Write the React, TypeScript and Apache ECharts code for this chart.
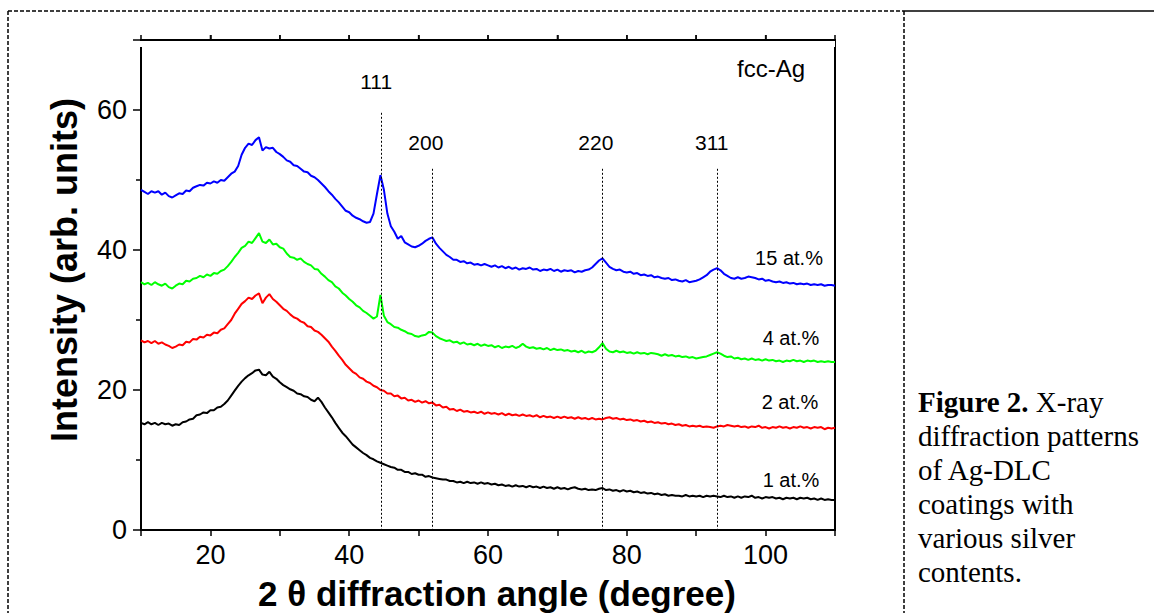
import React, { useEffect, useRef } from "react";
import * as echarts from "echarts";

// 2θ sampling of the digitised patterns (degrees)
const twoTheta: number[] = [
  10, 10.5, 11, 11.5, 12, 12.5, 13, 13.5, 14, 14.5,
  15, 15.5, 16, 16.5, 17, 17.5, 18, 18.5, 19, 19.5,
  20, 20.5, 21, 21.5, 22, 22.5, 23, 23.5, 24, 24.5,
  25, 25.5, 26, 26.5, 27, 27.5, 28, 28.5, 29, 29.5,
  30, 30.5, 31, 31.5, 32, 32.5, 33, 33.5, 34, 34.5,
  35, 35.5, 36, 36.5, 37, 37.5, 38, 38.5, 39, 39.5,
  40, 40.5, 41, 41.5, 42, 42.5, 43, 43.5, 44, 44.5,
  45, 45.5, 46, 46.5, 47, 47.5, 48, 48.5, 49, 49.5,
  50, 50.5, 51, 51.5, 52, 52.5, 53, 53.5, 54, 54.5,
  55, 55.5, 56, 56.5, 57, 57.5, 58, 58.5, 59, 59.5,
  60, 60.5, 61, 61.5, 62, 62.5, 63, 63.5, 64, 64.5,
  65, 65.5, 66, 66.5, 67, 67.5, 68, 68.5, 69, 69.5,
  70, 70.5, 71, 71.5, 72, 72.5, 73, 73.5, 74, 74.5,
  75, 75.5, 76, 76.5, 77, 77.5, 78, 78.5, 79, 79.5,
  80, 80.5, 81, 81.5, 82, 82.5, 83, 83.5, 84, 84.5,
  85, 85.5, 86, 86.5, 87, 87.5, 88, 88.5, 89, 89.5,
  90, 90.5, 91, 91.5, 92, 92.5, 93, 93.5, 94, 94.5,
  95, 95.5, 96, 96.5, 97, 97.5, 98, 98.5, 99, 99.5,
  100, 100.5, 101, 101.5, 102, 102.5, 103, 103.5, 104, 104.5,
  105, 105.5, 106, 106.5, 107, 107.5, 108, 108.5, 109, 109.5,
  110,
];

const blue15: number[] = [
  48.6, 48.3, 48.0, 48.4, 48.2, 48.4, 47.9, 48.2, 47.7, 47.5,
  47.8, 48.1, 48.0, 48.5, 48.4, 48.9, 49.1, 49.3, 49.2, 49.6,
  49.5, 49.8, 49.6, 50.0, 49.9, 50.4, 50.9, 51.2, 52.0, 53.6,
  54.6, 55.2, 55.0, 55.7, 56.1, 54.2, 54.7, 54.5, 54.6, 54.0,
  53.7, 53.3, 52.8, 52.6, 52.1, 52.0, 51.6, 51.2, 51.1, 50.6,
  50.4, 50.0, 49.5, 49.0, 48.4, 47.9, 47.3, 46.8, 46.2, 45.6,
  45.4, 44.9, 44.6, 44.4, 44.1, 43.9, 44.0, 45.2, 48.0, 50.7,
  48.6, 45.2, 43.4, 42.6, 41.6, 42.0, 41.1, 40.8, 40.5, 40.4,
  40.6, 40.9, 41.3, 41.6, 41.8, 40.9, 40.3, 39.8, 39.3, 39.0,
  38.6, 38.6, 38.3, 38.4, 38.1, 38.2, 37.9, 38.0, 37.8, 38.0,
  37.8, 37.6, 37.8, 37.5, 37.7, 37.4, 37.6, 37.3, 37.5, 37.2,
  37.4, 37.3, 37.5, 37.2, 37.3, 37.0, 37.2, 37.1, 37.3, 37.0,
  37.2, 36.9, 37.1, 37.0, 37.1, 36.8, 37.0, 36.9, 37.1, 37.2,
  37.5, 38.0, 38.5, 38.8, 38.2, 37.6, 37.3, 37.1, 37.2, 36.9,
  36.8, 36.9, 36.6, 36.7, 36.4, 36.5, 36.3, 36.4, 36.1, 36.2,
  36.0, 35.9, 36.0, 35.7, 35.8, 35.6, 35.5, 35.7, 35.4, 35.5,
  35.6, 35.8, 36.1, 36.4, 36.9, 37.2, 37.4, 37.1, 36.6, 36.3,
  36.0, 35.9, 36.1, 35.9, 36.0, 36.2, 36.1, 36.0, 35.8, 35.9,
  35.6, 35.7, 35.5, 35.4, 35.5, 35.3, 35.4, 35.2, 35.3, 35.1,
  35.2, 35.1, 35.2, 35.0, 35.1, 35.0, 35.1, 34.9, 35.0, 35.0,
  34.9,
];

const green4: number[] = [
  35.4, 35.1, 35.3, 35.0, 35.4, 35.1, 34.9, 35.2, 34.7, 34.5,
  34.9, 35.2, 35.1, 35.6, 35.5, 35.9, 36.0, 36.3, 36.1, 36.5,
  36.3, 36.7, 36.6, 37.0, 37.2, 37.7, 38.3, 39.0, 39.6, 40.3,
  40.6, 41.2, 41.0, 41.7, 42.4, 41.2, 41.0, 41.5, 40.8, 40.9,
  40.4, 40.2, 39.5, 39.0, 38.9, 38.6, 38.8, 38.3, 38.0, 37.8,
  37.3, 37.2, 36.6, 36.2, 35.7, 35.4, 34.8, 34.5, 33.9, 33.5,
  33.0, 32.6, 32.1, 31.8, 31.3, 31.0, 30.6, 30.2, 30.5, 33.6,
  30.6, 29.7, 29.4, 29.0, 28.9, 28.6, 28.4, 28.1, 28.0, 27.7,
  27.6, 27.8, 27.9, 28.3, 28.2, 27.7, 27.4, 27.2, 27.0, 27.1,
  26.8, 26.9, 26.6, 26.8, 26.5, 26.6, 26.4, 26.6, 26.3, 26.5,
  26.3, 26.4, 26.1, 26.3, 26.0, 26.2, 26.1, 26.3, 26.0, 26.2,
  26.6, 26.2, 26.0, 26.1, 25.9, 26.0, 25.8, 26.0, 25.7, 25.9,
  25.7, 25.8, 25.6, 25.7, 25.5, 25.6, 25.4, 25.6, 25.3, 25.5,
  25.4, 25.6, 26.1, 26.7, 25.9, 25.5, 25.4, 25.6, 25.4, 25.5,
  25.3, 25.4, 25.2, 25.4, 25.2, 25.3, 25.1, 25.3, 25.2, 25.1,
  24.9, 25.1, 24.9, 25.0, 24.8, 24.9, 24.7, 24.8, 24.6, 24.7,
  24.5, 24.6, 24.7, 24.8, 25.0, 25.2, 25.4, 25.2, 24.9, 24.7,
  24.8, 24.5, 24.6, 24.4, 24.5, 24.3, 24.5, 24.3, 24.4, 24.2,
  24.4, 24.2, 24.3, 24.1, 24.2, 24.0, 24.2, 24.1, 24.3, 24.1,
  24.2, 24.0, 24.2, 24.1, 24.2, 24.0, 24.1, 24.0, 24.1, 24.0,
  24.0,
];

const red2: number[] = [
  27.1, 26.8, 27.0, 26.7, 27.0, 26.6, 26.8, 26.5, 26.3, 26.0,
  26.2, 26.5, 26.4, 26.9, 26.8, 27.3, 27.2, 27.6, 27.5, 27.9,
  27.8, 28.2, 28.1, 28.6, 28.8, 29.4, 30.0, 30.9, 31.6, 32.3,
  32.7, 33.2, 33.0, 33.5, 33.8, 32.4, 33.2, 33.7, 33.0, 32.6,
  32.1, 31.6, 31.3, 30.8, 30.4, 30.2, 29.8, 29.6, 29.1, 29.0,
  28.5, 28.3, 27.9, 27.4, 26.9, 26.2, 25.6, 24.9, 24.3, 23.6,
  23.1, 22.6, 22.3, 21.8, 21.6, 21.2, 21.0, 20.6, 20.4, 20.0,
  19.9, 19.5, 19.5, 19.1, 19.2, 18.8, 18.9, 18.5, 18.6, 18.3,
  18.5, 18.2, 18.4, 18.1, 18.2, 17.8, 17.9, 17.5, 17.6, 17.2,
  17.3, 17.0, 17.2, 16.9, 17.0, 16.8, 16.9, 16.7, 16.9, 16.6,
  16.8, 16.6, 16.7, 16.5, 16.7, 16.4, 16.6, 16.4, 16.5, 16.3,
  16.5, 16.3, 16.4, 16.2, 16.4, 16.1, 16.3, 16.1, 16.2, 16.0,
  16.2, 16.0, 16.2, 16.0, 16.1, 15.9, 16.1, 15.9, 16.0, 15.8,
  16.0, 15.8, 15.9, 15.8, 16.0, 16.1, 15.9, 16.0, 15.8, 15.9,
  15.7, 15.8, 15.6, 15.7, 15.5, 15.6, 15.4, 15.5, 15.3, 15.4,
  15.2, 15.3, 15.1, 15.2, 15.0, 15.1, 14.9, 15.0, 14.8, 14.9,
  14.8, 14.9, 14.7, 14.8, 14.7, 14.6, 14.8, 14.9, 14.8, 15.0,
  14.9, 14.8, 14.9, 14.7, 14.8, 14.6, 14.8, 14.7, 14.9, 14.6,
  14.7, 14.5, 14.7, 14.6, 14.8, 14.6, 14.7, 14.5, 14.7, 14.6,
  14.8, 14.6, 14.7, 14.5, 14.7, 14.6, 14.7, 14.4, 14.6, 14.5,
  14.6,
];

const black1: number[] = [
  15.3, 15.1, 15.4, 15.1, 15.3, 15.0, 15.3, 15.1, 15.2, 14.9,
  15.1, 15.0, 15.4, 15.5, 15.8, 15.9, 16.4, 16.5, 16.8, 16.7,
  17.1, 17.1, 17.5, 17.6, 18.0, 18.5, 19.2, 19.9, 20.6, 21.2,
  21.7, 22.1, 22.4, 22.8, 22.9, 22.2, 22.1, 22.6, 21.9, 21.6,
  21.1, 20.7, 20.4, 20.1, 19.9, 19.5, 19.4, 19.1, 19.0, 18.6,
  18.4, 18.9, 18.3, 17.5, 16.8, 16.1, 15.3, 14.6, 13.9, 13.4,
  12.8, 12.2, 11.8, 11.4, 11.0, 10.7, 10.3, 10.1, 9.8, 9.6,
  9.4, 9.2, 9.0, 8.9, 8.6, 8.6, 8.3, 8.3, 8.0, 8.1,
  7.9, 7.9, 7.6, 7.7, 7.5, 7.4, 7.3, 7.2, 7.2, 7.0,
  7.0, 6.8, 6.9, 6.7, 6.9, 6.7, 6.8, 6.6, 6.8, 6.6,
  6.7, 6.5, 6.6, 6.4, 6.5, 6.3, 6.4, 6.2, 6.4, 6.2,
  6.3, 6.1, 6.3, 6.1, 6.2, 6.0, 6.2, 6.0, 6.1, 5.9,
  6.1, 5.9, 6.0, 5.8, 6.0, 6.1, 5.9, 5.8, 5.9, 5.7,
  5.8, 5.7, 5.9, 6.0, 5.7, 5.8, 5.6, 5.7, 5.5, 5.7,
  5.5, 5.6, 5.4, 5.5, 5.3, 5.4, 5.2, 5.3, 5.1, 5.2,
  5.0, 5.1, 4.9, 5.0, 4.9, 4.9, 4.8, 5.0, 4.8, 4.9,
  4.8, 4.9, 4.7, 4.9, 4.8, 4.9, 4.8, 4.7, 4.9, 4.7,
  4.8, 4.6, 4.8, 4.6, 4.8, 4.7, 4.9, 4.6, 4.7, 4.5,
  4.7, 4.6, 4.7, 4.5, 4.6, 4.4, 4.6, 4.5, 4.6, 4.4,
  4.6, 4.5, 4.6, 4.4, 4.5, 4.3, 4.5, 4.3, 4.4, 4.3,
  4.3,
];

const seriesNames = ["15 at.%", "4 at.%", "2 at.%", "1 at.%"];
const peakLabels = ["111", "200", "220", "311"];
const peakPositions = [44.6, 51.9, 76.4, 93.1];
const peakLineTops = [59.6, 51.6, 51.6, 51.6];
const xTicks = [20, 30, 40, 50, 60, 70, 80, 90, 100];

const SANS = "'Liberation Sans', Arial, sans-serif";
const SERIF = "'Liberation Serif', 'Times New Roman', serif";

export default function App() {
  const ref = useRef<HTMLDivElement>(null);
  useEffect(() => {
    if (!ref.current) return;
    const chart = echarts.init(ref.current, undefined, { renderer: "svg" });
    const pairs = (ys: number[]) => twoTheta.map((x, i) => [x, ys[i]]);
    const lineSeries = (name: string, ys: number[], color: string, extra: any = {}) => ({
      name,
      type: "line",
      xAxisIndex: 0,
      yAxisIndex: 0,
      data: pairs(ys),
      showSymbol: false,
      symbol: "none",
      lineStyle: { color, width: 2 },
      itemStyle: { color },
      z: 3,
      ...extra,
    });
    const markLineData = peakPositions.map((p, i) => [
      {
        coord: [p, peakLineTops[i]],
        label: {
          show: true,
          formatter: peakLabels[i],
          position: "start",
          distance: i === 0 ? 16 : 9,
          fontSize: 21,
          color: "#000",
          fontFamily: SANS,
          offset: i === 0 ? [-5, -5] : [-6, -7],
        },
      },
      { coord: [p, 0] },
    ]);
    // top-frame tick marks, drawn at the top edge of the plot through the axis scale
    const topTicks = xTicks.map((t) => [
      { coord: [t, 70], symbol: "none" },
      { coord: [t, 70], symbol: "none" },
    ]);
    chart.setOption({
      animation: false,
      backgroundColor: "#fff",
      grid: {
        left: 141,
        right: 319,
        top: 40,
        bottom: 83,
        containLabel: false,
        show: true,
        borderColor: "#000",
        borderWidth: 2,
        backgroundColor: "transparent",
      },
      xAxis: [
        {
          type: "value",
          min: 10,
          max: 110,
          interval: 10,
          position: "bottom",
          axisLine: { show: true, onZero: false, lineStyle: { color: "#000", width: 2 } },
          axisTick: { show: true, inside: false, length: 6, lineStyle: { color: "#000", width: 1.5 } },
          axisLabel: {
            show: true,
            formatter: (v: number) => (v % 20 === 0 ? String(v) : ""),
            fontSize: 27,
            color: "#000",
            fontFamily: SANS,
            margin: 11,
          },
          splitLine: { show: false },
        },
        {
          type: "value",
          min: 10,
          max: 110,
          interval: 10,
          position: "top",
          axisLine: { show: true, onZero: false, lineStyle: { color: "#000", width: 2 } },
          axisTick: { show: true, inside: false, length: 5, lineStyle: { color: "#000", width: 1.5 } },
          axisLabel: { show: false },
          splitLine: { show: false },
        },
      ],
      yAxis: [
        {
          type: "value",
          min: 0,
          max: 70,
          interval: 20,
          position: "left",
          axisLine: { show: true, onZero: false, lineStyle: { color: "#000", width: 2 } },
          axisTick: { show: true, inside: false, length: 8, lineStyle: { color: "#000", width: 1.5 } },
          minorTick: { show: true, splitNumber: 2, length: 5, lineStyle: { color: "#000", width: 1.5 } },
          axisLabel: {
            fontSize: 27,
            color: "#000",
            fontFamily: SANS,
            margin: 14,
            formatter: (v: number) => (v % 20 === 0 ? String(v) : ""),
          },
          splitLine: { show: false },
        },
        {
          type: "value",
          min: 0,
          max: 70,
          position: "right",
          axisLine: { show: true, onZero: false, lineStyle: { color: "#000", width: 2 } },
          axisTick: { show: false },
          axisLabel: { show: false },
          splitLine: { show: false },
        },
      ],
      series: [
        lineSeries(seriesNames[0], blue15, "#0000ff", {
          markLine: {
            silent: true,
            symbol: ["none", "none"],
            lineStyle: { color: "#000", width: 1, type: [2, 2] },
            data: markLineData,
            z: 5,
          },
        }),
        lineSeries(seriesNames[1], green4, "#00ff00"),
        lineSeries(seriesNames[2], red2, "#ff0000"),
        lineSeries(seriesNames[3], black1, "#000000"),
        {
          name: "topTicks",
          type: "scatter",
          xAxisIndex: 0,
          yAxisIndex: 0,
          data: xTicks.map((t) => [t, 70]),
          symbol: "rect",
          symbolSize: [1.5, 10],
          symbolOffset: [0, 0],
          itemStyle: { color: "#000" },
          silent: true,
          clip: false,
          z: 6,
        },
      ],
      graphic: [
        { type: "rect", shape: { x: 125, y: 41, width: 710, height: 6 }, style: { fill: "#fff" }, z: 100 },
        { type: "line", shape: { x1: 8, y1: 11, x2: 903, y2: 11 }, style: { stroke: "#000", lineWidth: 1.3, lineDash: [4, 2] } },
        { type: "line", shape: { x1: 903, y1: 11, x2: 1154, y2: 11 }, style: { stroke: "#000", lineWidth: 1.5 } },
        { type: "line", shape: { x1: 8, y1: 11, x2: 8, y2: 613 }, style: { stroke: "#000", lineWidth: 1.5, lineDash: [4, 2] } },
        { type: "line", shape: { x1: 904, y1: 11, x2: 904, y2: 613 }, style: { stroke: "#000", lineWidth: 1.5, lineDash: [4, 2] } },
        {
          type: "text",
          x: 64,
          y: 270,
          rotation: Math.PI / 2,
          style: {
            text: "Intensity (arb. units)",
            font: `bold 36px ${SANS}`,
            fill: "#000",
            align: "center",
            verticalAlign: "middle",
          },
        },
        {
          type: "text",
          x: 497,
          y: 593,
          style: {
            text: "2 θ diffraction angle (degree)",
            font: `bold 35px ${SANS}`,
            fill: "#000",
            align: "center",
            verticalAlign: "middle",
          },
        },
        { type: "text", x: 771, y: 68, style: { text: "fcc-Ag", font: `24px ${SANS}`, fill: "#000", align: "center", verticalAlign: "middle" } },
        { type: "text", x: 789, y: 258, style: { text: seriesNames[0], font: `20px ${SANS}`, fill: "#000", align: "center", verticalAlign: "middle" } },
        { type: "text", x: 791, y: 338, style: { text: seriesNames[1], font: `20px ${SANS}`, fill: "#000", align: "center", verticalAlign: "middle" } },
        { type: "text", x: 790, y: 402, style: { text: seriesNames[2], font: `20px ${SANS}`, fill: "#000", align: "center", verticalAlign: "middle" } },
        { type: "text", x: 791, y: 480, style: { text: seriesNames[3], font: `20px ${SANS}`, fill: "#000", align: "center", verticalAlign: "middle" } },
        {
          type: "text",
          x: 918,
          y: 385,
          style: {
            text: "{b|Figure 2.} X-ray\ndiffraction patterns\nof Ag-DLC\ncoatings with\nvarious silver\ncontents.",
            font: `29px ${SERIF}`,
            fill: "#000",
            lineHeight: 34,
            rich: { b: { fontWeight: "bold", fontSize: 29, fontFamily: SERIF, lineHeight: 34 } },
          },
        },
      ],
    });
    return () => chart.dispose();
  }, []);
  return (
    <div
      ref={ref}
      style={{ position: "absolute", left: 0, top: 0, width: 1154, height: 613, background: "#fff" }}
    />
  );
}
